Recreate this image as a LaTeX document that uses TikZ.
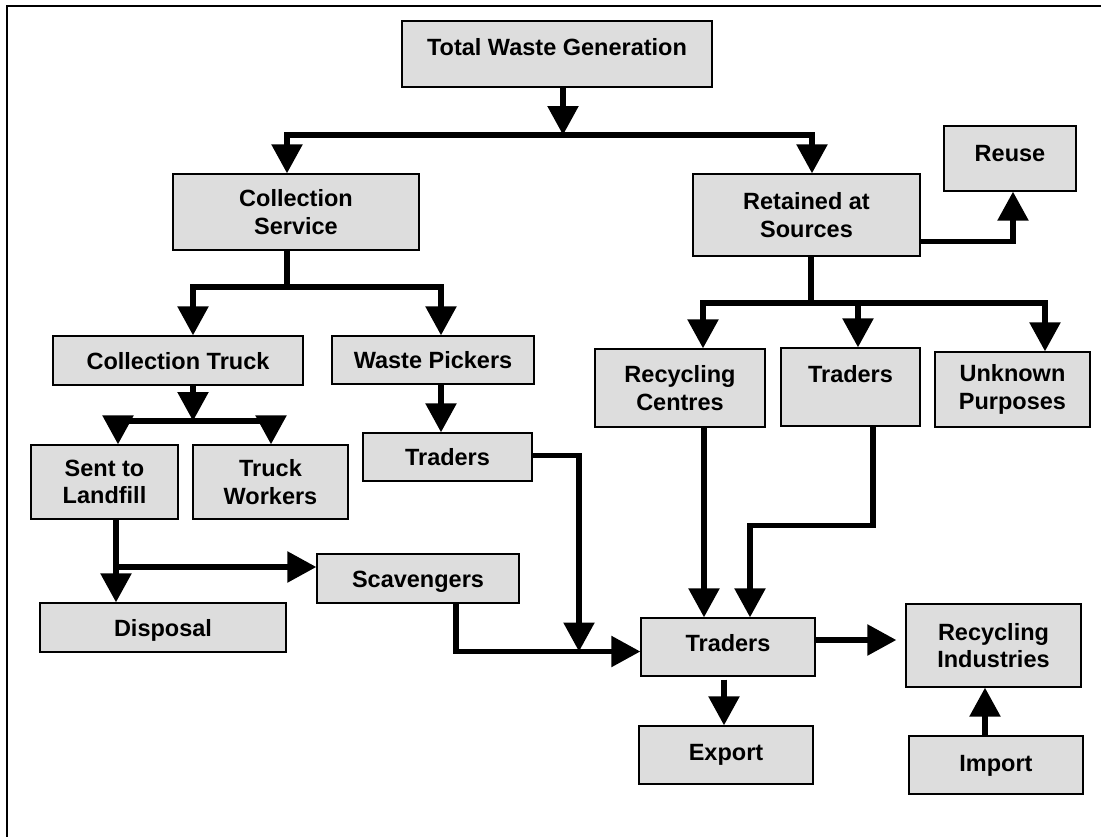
\documentclass[tikz,border=0pt]{standalone}
\usepackage{fontspec}
\newfontfamily\arialfont{Liberation Sans}
\usetikzlibrary{arrows.meta,calc}
\definecolor{boxgray}{RGB}{221,221,221}
\begin{document}
\begin{tikzpicture}[x=1pt,y=-1pt,
  box/.style={draw, fill=boxgray, line width=1.3pt, align=center, inner sep=0pt,
    font=\arialfont\bfseries\fontsize{23.5}{27.5}\selectfont},
  sz/.style 2 args={minimum width=#1pt, minimum height=#2pt},
  lift/.style={text height=17pt, text depth=#1pt},
  link/.style={line width=5.5pt, line join=miter, line cap=butt},
  flow/.style={link, -{Triangle[width=30pt,length=29pt]}}]
\useasboundingbox (0,0) rectangle (1101,836);
% outer frame
\draw[line width=1.6pt] (7,845) -- (7,6) -- (1110,6);

% boxes
\node[box, sz={310}{66}, lift=14] (tot) at (557,54) {Total Waste Generation};
\node[box, sz={246}{76}] (cs) at (296,212) {Collection\\Service};
\node[box, sz={227}{82}] (rs) at (806.5,215) {Retained at\\Sources};
\node[box, sz={132}{65}, lift=11] (reuse) at (1010,158.5) {Reuse};
\node[box, sz={250}{49}, lift=0] (ct) at (178,360.5) {Collection Truck};
\node[box, sz={202}{48}, lift=0] (wp) at (433,360) {Waste Pickers};
\node[box, sz={147}{74}] (sl) at (104.5,482) {Sent to\\Landfill};
\node[box, sz={155}{74}] (tw) at (270.5,482) {Truck\\Workers};
\node[box, sz={169}{48}, lift=0] (trl) at (447.5,457) {Traders};
\node[box, sz={170}{78}] (rc) at (680,388) {Recycling\\Centres};
\node[box, sz={139}{78}, lift=26] (trr) at (850.5,387) {Traders};
\node[box, sz={155}{75}] (up) at (1012.5,389.5) {Unknown\\Purposes};
\node[box, sz={246}{49}, lift=0] (dis) at (163,627.5) {Disposal};
\node[box, sz={202}{49}, lift=0] (sca) at (418,578.5) {Scavengers};
\node[box, sz={174}{58}, lift=8] (trm) at (728,647) {Traders};
\node[box, sz={175}{83}] (ri) at (993.5,645.5) {Recycling\\Industries};
\node[box, sz={174}{58}, lift=6] (exp) at (726,755) {Export};
\node[box, sz={174}{58}, lift=4] (imp) at (996,765) {Import};

% junction points
\coordinate (j1) at (563,135);
\coordinate (j2) at (287,287);
\coordinate (j3) at (193,421);
\coordinate (j4) at (116,567);
\coordinate (j5) at (579,651.5);
\coordinate (j6) at (811,303);

% total generation splits
\draw[flow] (j1 |- tot.south) -- (j1);
\draw[flow] (j1) -| ($(cs.north)+(-9,0)$);
\draw[flow] (j1) -| ($(rs.north)+(5.5,0)$);

% collection service
\draw[link] (j2 |- cs.south) -- (j2);
\draw[flow] (j2) -| ($(ct.north)+(15,0)$);
\draw[flow] (j2) -| ($(wp.north)+(8,0)$);

% collection truck
\draw[flow] (j3 |- ct.south) -- (j3);
\draw[flow] (j3) -| ($(sl.north)+(13.5,0)$);
\draw[flow] (j3) -| ($(tw.north)+(0.5,0)$);

% waste pickers
\draw[flow] ($(wp.south)+(8,0)$) -- ($(trl.north)+(-6.5,0)$);

% landfill
\draw[link] (j4 |- sl.south) -- (j4);
\draw[flow] (j4) -- (j4 |- dis.north);
\draw[flow] (j4) -- (sca.west |- j4);

% towards the main traders
\draw[flow] ($(sca.south)+(38,0)$) |- (trm.west |- j5);
\draw[flow] ($(trl.east)+(0,-1.5)$) -| (j5);

% retained at sources
\draw[flow] ($(rs.east)+(0,26.7)$) -| ($(reuse.south)+(3,0)$);
\draw[link] (j6 |- rs.south) -- (j6);
\draw[flow] (j6) -| ($(rc.north)+(23,0)$);
\draw[flow] (j6) -| ($(trr.north)+(7.5,0)$);
\draw[flow] (j6) -| ($(up.north)+(32.5,0)$);

% into the main traders
\draw[flow] ($(rc.south)+(24,0)$) -- ($(trm.north)+(-24,0)$);
\draw[flow] ($(trr.south)+(22.5,0)$) -- ++(0,99) -| ($(trm.north)+(22,0)$);

% out of the main traders
\draw[flow, shorten >=9pt] ($(trm.east)+(0,-7)$) -- ($(ri.west)+(0,-5.5)$);
\draw[flow, shorten <=3pt] ($(trm.south)+(-4,0)$) -- ($(exp.north)+(-2,0)$);
\draw[flow] ($(imp.north)+(-11,0)$) -- ($(ri.south)+(-8.5,0)$);
\end{tikzpicture}
\end{document}
